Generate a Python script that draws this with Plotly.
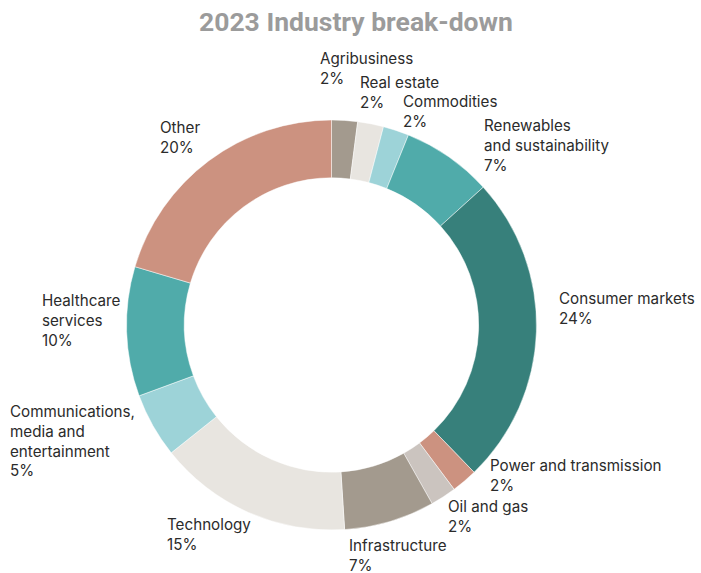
import plotly.graph_objects as go

W, H = 701, 573

# Industry shares (%), clockwise from 12 o'clock
industries = [
    "Agribusiness", "Real estate", "Commodities", "Renewables and sustainability",
    "Consumer markets", "Power and transmission", "Oil and gas", "Infrastructure",
    "Technology", "Communications, media and entertainment", "Healthcare services", "Other",
]
label_lines = [
    "Agribusiness", "Real estate", "Commodities", "Renewables<br>and sustainability",
    "Consumer markets", "Power and transmission", "Oil and gas", "Infrastructure",
    "Technology", "Communications,<br>media and<br>entertainment", "Healthcare<br>services", "Other",
]
shares = [2, 2, 2, 7, 24, 2, 2, 7, 15, 5, 10, 20]

colors = [
    "#a39a8e", "#e8e5e0", "#9dd3d8", "#50abaa", "#37807b", "#cc9280",
    "#cbc4bf", "#a39a8e", "#e8e5e0", "#9dd3d8", "#50abaa", "#cc9280",
]

# Label anchor points in pixels (left edge, top of first line)
label_pos = [
    (318, 47), (358, 71), (401, 90), (482, 114), (557, 287), (488, 454),
    (446, 495), (347, 534), (165, 513), (8, 400), (40, 289), (158, 116),
]

cx, cy, r = 331.5, 325, 205

fig = go.Figure(go.Pie(
    labels=industries,
    values=shares,
    sort=False,
    direction="clockwise",
    rotation=0,
    hole=0.718,
    marker=dict(colors=colors, line=dict(color="rgba(255,255,255,0.6)", width=0.8)),
    textinfo="none",
    hoverinfo="label+percent",
    domain=dict(x=[(cx - r) / W, (cx + r) / W], y=[(H - cy - r) / H, (H - cy + r) / H]),
))

annotations = []
for text, pct, (px, py) in zip(label_lines, shares, label_pos):
    annotations.append(dict(
        x=px / W, y=1 - py / H, xref="paper", yref="paper",
        xanchor="left", yanchor="top", align="left", showarrow=False,
        text=f"{text}<br>{pct}%",
        font=dict(family="Inter, Roboto, sans-serif", size=15.2, color="#2b2b2b"),
    ))

annotations.append(dict(
    x=355.5 / W, y=1 - 22 / H, xref="paper", yref="paper",
    xanchor="center", yanchor="middle", showarrow=False,
    text="<b>2023 Industry break-down</b>",
    font=dict(family="Roboto, Inter, sans-serif", size=26.5, color="#9b9b9b"),
))

fig.update_layout(
    width=W, height=H,
    margin=dict(l=0, r=0, t=0, b=0),
    paper_bgcolor="white", plot_bgcolor="white",
    showlegend=False,
    annotations=annotations,
)

fig.write_html("out.html")
